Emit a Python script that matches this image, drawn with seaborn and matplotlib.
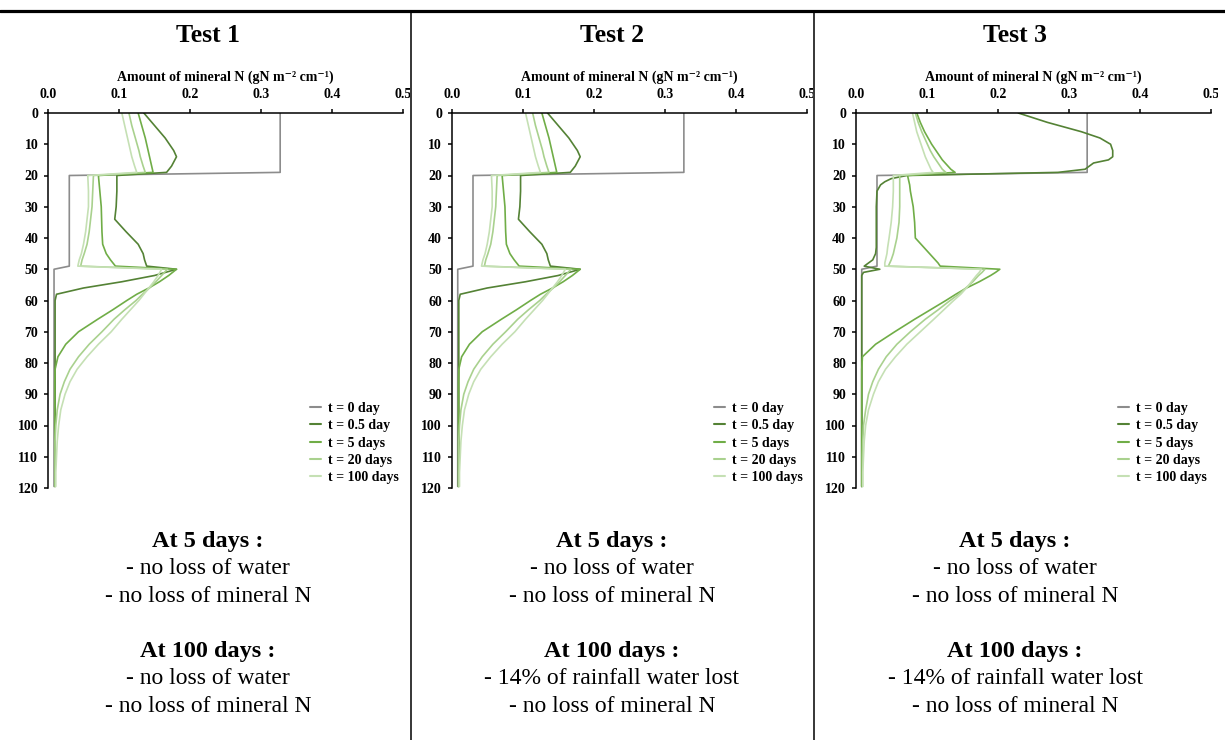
import matplotlib
matplotlib.use("Agg")
import pandas as pd
import matplotlib.pyplot as plt
from matplotlib.lines import Line2D
from matplotlib.patches import Rectangle
import seaborn as sns

# ---- data ----
TIME_LABELS = ['t = 0 day', 't = 0.5 day', 't = 5 days', 't = 20 days', 't = 100 days']
COLORS = ['#8c8c8c', '#548235', '#70ad47', '#a9d18e', '#c5e0b4']

# initial profile (t = 0)
DEPTH_T0 = [0, 19, 20, 49, 50, 119.5]
T12_00 = [0.327, 0.327, 0.030, 0.030, 0.0085, 0.0085]
T3_00 = [0.326, 0.326, 0.030, 0.030, 0.0085, 0.0085]

# tests 1 and 2 (identical profiles)
DEPTH_12 = [0, 4, 8, 12, 14, 17, 19, 20, 25, 30, 34, 38, 42, 45, 47, 49,
            50, 52, 54, 56, 58, 60, 63, 66, 70, 74, 78, 82, 86, 90, 95, 100,
            105, 110, 115, 119.5]
T12_05 = [0.135, 0.150, 0.165, 0.177, 0.181, 0.174, 0.167, 0.097, 0.097, 0.096,
          0.094, 0.110, 0.127, 0.134, 0.136, 0.139, 0.181, 0.150, 0.104, 0.050,
          0.012, 0.010, 0.010, 0.010, 0.010, 0.010, 0.010, 0.010, 0.010, 0.010,
          0.010, 0.010, 0.010, 0.010, 0.010, 0.010]
T12_5 = [0.127, 0.132, 0.137, 0.141, 0.143, 0.146, 0.148, 0.071, 0.073, 0.075,
         0.0755, 0.076, 0.077, 0.082, 0.088, 0.095, 0.181, 0.170, 0.157, 0.142,
         0.125, 0.111, 0.091, 0.070, 0.043, 0.025, 0.014, 0.010, 0.0095, 0.0095,
         0.0095, 0.0095, 0.0095, 0.0095, 0.0095, 0.0095]
T12_20 = [0.114, 0.118, 0.123, 0.128, 0.130, 0.134, 0.137, 0.064, 0.063, 0.062,
          0.060, 0.058, 0.055, 0.051, 0.048, 0.046, 0.168, 0.160, 0.152, 0.143,
          0.133, 0.124, 0.108, 0.093, 0.076, 0.058, 0.043, 0.031, 0.023, 0.017,
          0.013, 0.011, 0.010, 0.010, 0.010, 0.010]
T12_100 = [0.104, 0.108, 0.112, 0.116, 0.118, 0.122, 0.125, 0.056, 0.057, 0.057,
           0.055, 0.053, 0.050, 0.047, 0.044, 0.042, 0.160, 0.155, 0.149, 0.142,
           0.135, 0.128, 0.116, 0.104, 0.089, 0.071, 0.055, 0.041, 0.031, 0.024,
           0.018, 0.015, 0.013, 0.012, 0.011, 0.011]

# test 3
DEPTH_3 = [0, 3, 6, 8, 10, 12, 14, 15, 16, 18, 19, 20, 21, 22, 23, 25, 30, 35,
           40, 43, 45, 47, 48, 49, 50, 51, 52, 54, 56, 58, 60, 63, 66, 70, 74,
           78, 82, 86, 90, 95, 100, 105, 110, 115, 119.5]
T3_05 = [0.229, 0.270, 0.318, 0.344, 0.359, 0.362, 0.362, 0.356, 0.335, 0.323,
         0.285, 0.072, 0.050, 0.041, 0.035, 0.030, 0.029, 0.029, 0.029, 0.029,
         0.028, 0.024, 0.018, 0.012, 0.034, 0.011, 0.0085, 0.0085, 0.0085, 0.0085,
         0.0085, 0.0085, 0.0085, 0.0085, 0.0085, 0.0085, 0.0085, 0.0085, 0.0085,
         0.0085, 0.0085, 0.0085, 0.0085, 0.0085, 0.0085]
T3_5 = [0.086, 0.091, 0.097, 0.102, 0.107, 0.113, 0.119, 0.122, 0.126, 0.134,
        0.140, 0.073, 0.074, 0.075, 0.076, 0.077, 0.081, 0.083, 0.084, 0.096,
        0.104, 0.112, 0.116, 0.119, 0.203, 0.197, 0.190, 0.174, 0.156, 0.141,
        0.127, 0.105, 0.083, 0.055, 0.028, 0.0095, 0.0085, 0.0085, 0.0085, 0.0085,
        0.0085, 0.0085, 0.0085, 0.0085, 0.0085]
T3_20 = [0.084, 0.088, 0.093, 0.097, 0.101, 0.105, 0.110, 0.113, 0.116, 0.122,
         0.127, 0.062, 0.062, 0.062, 0.062, 0.062, 0.062, 0.061, 0.058, 0.055,
         0.053, 0.050, 0.048, 0.046, 0.182, 0.178, 0.173, 0.165, 0.155, 0.145,
         0.133, 0.116, 0.098, 0.077, 0.058, 0.043, 0.032, 0.024, 0.018, 0.014,
         0.011, 0.010, 0.0095, 0.0095, 0.0095]
T3_100 = [0.080, 0.083, 0.086, 0.089, 0.092, 0.095, 0.098, 0.100, 0.102, 0.106,
          0.109, 0.053, 0.053, 0.053, 0.053, 0.053, 0.052, 0.050, 0.047, 0.045,
          0.044, 0.042, 0.041, 0.041, 0.177, 0.174, 0.170, 0.163, 0.156, 0.148,
          0.138, 0.124, 0.110, 0.091, 0.072, 0.056, 0.042, 0.032, 0.025, 0.018,
          0.014, 0.012, 0.011, 0.010, 0.010]

TITLES = ['Test 1', 'Test 2', 'Test 3']
NOTES_5 = [['- no loss of water', '- no loss of mineral N'],
           ['- no loss of water', '- no loss of mineral N'],
           ['- no loss of water', '- no loss of mineral N']]
NOTES_100 = [['- no loss of water', '- no loss of mineral N'],
             ['- 14% of rainfall water lost', '- no loss of mineral N'],
             ['- 14% of rainfall water lost', '- no loss of mineral N']]
X_TICKS = [0.0, 0.1, 0.2, 0.3, 0.4, 0.5]
X_TICKLABELS = ['0.0', '0.1', '0.2', '0.3', '0.4', '0.5']
Y_TICKS = [0, 10, 20, 30, 40, 50, 60, 70, 80, 90, 100, 110, 120]


def profile_frame(t0, d_green, greens):
    rows = []
    for d, v in zip(DEPTH_T0, t0):
        rows.append((TIME_LABELS[0], d, v))
    for label, vals in zip(TIME_LABELS[1:], greens):
        for d, v in zip(d_green, vals):
            rows.append((label, d, v))
    return pd.DataFrame(rows, columns=['time', 'depth', 'N'])


PANELS = [
    profile_frame(T12_00, DEPTH_12, [T12_05, T12_5, T12_20, T12_100]),
    profile_frame(T12_00, DEPTH_12, [T12_05, T12_5, T12_20, T12_100]),
    profile_frame(T3_00, DEPTH_3, [T3_05, T3_5, T3_20, T3_100]),
]

# ---- layout (pixels of a 1225x740 canvas) ----
W, H = 1225, 740
AX_LEFT = [48, 451.7, 855.7]
AX_W, AX_TOP, AX_BOTTOM = 355, 113, 488
COL_CENTER = [208, 612, 1015]
COL_RIGHT = [410, 813, 1218]

sns.set_style("ticks")
plt.rcParams['font.family'] = ['Liberation Serif', 'DejaVu Serif']
plt.rcParams['text.color'] = 'black'
plt.rcParams['axes.labelcolor'] = 'black'
plt.rcParams['xtick.color'] = 'black'
plt.rcParams['ytick.color'] = 'black'

fig = plt.figure(figsize=(W / 100, H / 100), dpi=100)
palette = dict(zip(TIME_LABELS, COLORS))

for i, df in enumerate(PANELS):
    ax = fig.add_axes([AX_LEFT[i] / W, 1 - AX_BOTTOM / H, AX_W / W, (AX_BOTTOM - AX_TOP) / H])
    sns.lineplot(data=df, x='N', y='depth', hue='time', hue_order=TIME_LABELS,
                 palette=palette, estimator=None, sort=False, linewidth=1.2, ax=ax)
    ax.set_xlim(0, 0.5)
    ax.set_ylim(120, 0)
    ax.xaxis.tick_top()
    ax.xaxis.set_label_position('top')
    ax.set_xticks(X_TICKS)
    ax.set_xticklabels(X_TICKLABELS)
    ax.set_yticks(Y_TICKS)
    for side in ['right', 'bottom']:
        ax.spines[side].set_visible(False)
    for side in ['top', 'left']:
        ax.spines[side].set_linewidth(1.1)
        ax.spines[side].set_color('black')
    ax.tick_params(axis='x', direction='out', length=3, width=1.1, pad=5.5,
                   labelsize=10, colors='black', top=True, bottom=False)
    ax.tick_params(axis='y', direction='out', length=3, width=1.1, pad=4,
                   labelsize=10, colors='black', left=True)
    for lab in ax.get_xticklabels() + ax.get_yticklabels():
        lab.set_fontweight('bold')
    # the last top label is cut by the column border, as in the table
    clip = Rectangle((0, 0), COL_RIGHT[i] / W, 1, transform=fig.transFigure)
    for lab in ax.get_xticklabels():
        lab.set_clip_path(clip)
    ax.set_xlabel('Amount of mineral N (gN m⁻² cm⁻¹)', fontsize=10,
                  fontweight='bold', labelpad=5, color='black')
    ax.set_ylabel('')

    old = ax.get_legend()
    handles = old.legend_handles
    labels = [t.get_text() for t in old.get_texts()]
    old.remove()
    leg = ax.legend(handles, labels, loc='lower right', bbox_to_anchor=(1.0, 0.0),
                    frameon=False, prop={'weight': 'bold', 'size': 10},
                    handlelength=0.8, handletextpad=0.5, labelspacing=0.3,
                    borderaxespad=0.3, borderpad=0, labelcolor='black')
    for h in leg.legend_handles:
        h.set_linewidth(1.5)

    cx = COL_CENTER[i] / W
    fig.text(cx, 1 - 35 / H, TITLES[i], ha='center', va='center',
             fontsize=18.5, fontweight='bold', color='black')
    fig.text(cx, 1 - 542 / H, 'At 5 days :', ha='center', va='center',
             fontsize=17.5, fontweight='bold', color='black')
    fig.text(cx, 1 - 569 / H, NOTES_5[i][0], ha='center', va='center',
             fontsize=17, color='black')
    fig.text(cx, 1 - 596 / H, NOTES_5[i][1], ha='center', va='center',
             fontsize=17, color='black')
    fig.text(cx, 1 - 652 / H, 'At 100 days :', ha='center', va='center',
             fontsize=17.5, fontweight='bold', color='black')
    fig.text(cx, 1 - 679 / H, NOTES_100[i][0], ha='center', va='center',
             fontsize=17, color='black')
    fig.text(cx, 1 - 706 / H, NOTES_100[i][1], ha='center', va='center',
             fontsize=17, color='black')

# table rules
fig.add_artist(Line2D([0, 1], [1 - 11 / H, 1 - 11 / H], transform=fig.transFigure,
                      color='black', linewidth=2.3, zorder=10))
for xpx in [411, 814]:
    fig.add_artist(Line2D([xpx / W, xpx / W], [0, 1 - 11 / H], transform=fig.transFigure,
                          color='black', linewidth=1.1, zorder=10))

fig.savefig('out.png', dpi=100)
plt.close(fig)
